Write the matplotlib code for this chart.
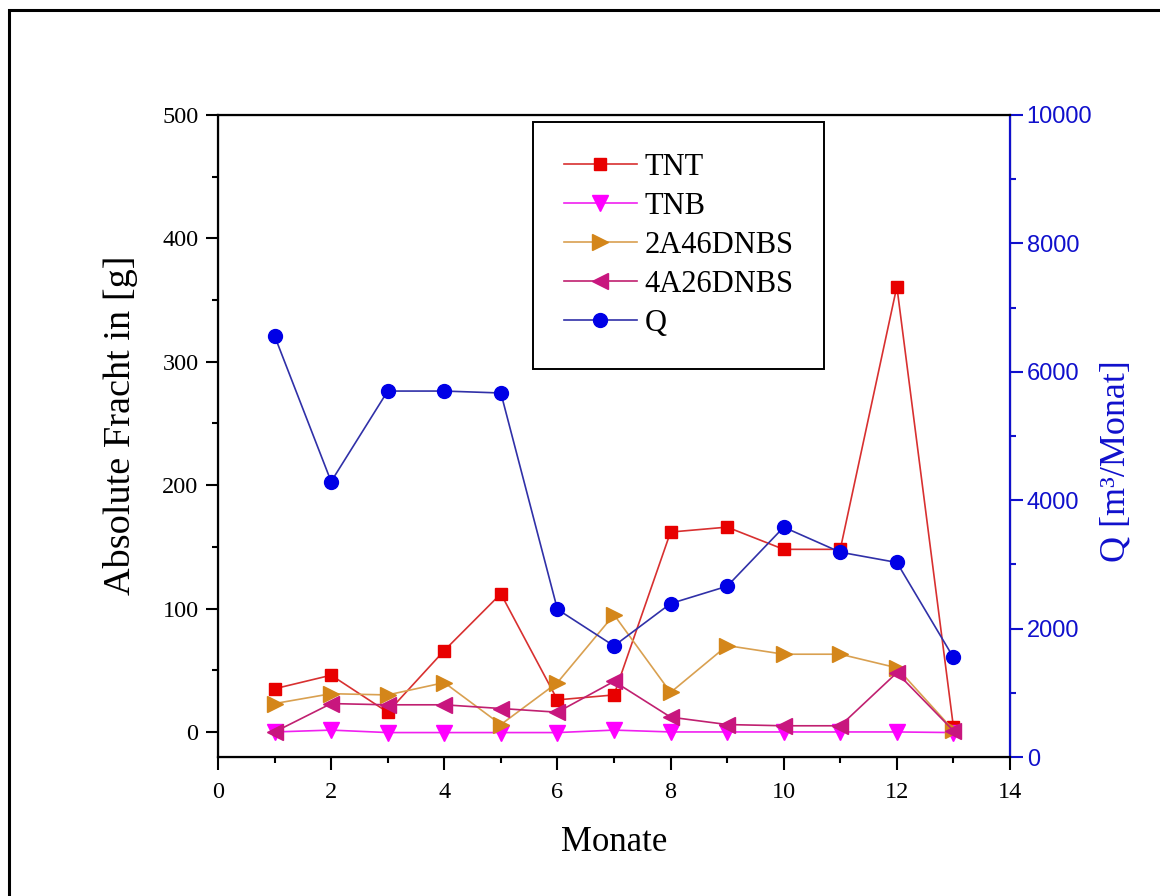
import matplotlib
matplotlib.use("Agg")
import matplotlib.pyplot as plt
from matplotlib.patches import Rectangle
from matplotlib.ticker import MultipleLocator

# data
monate = [1, 2, 3, 4, 5, 6, 7, 8, 9, 10, 11, 12, 13]
tnt = [35, 46, 16, 66, 112, 26, 30, 162, 166, 148, 148, 361, 4]
tnb = [0, 1.5, -0.5, -0.5, -0.5, -0.5, 1.5, 0, 0, 0, 0, 0, -0.5]
a2_46dnbs = [23, 31, 30, 40, 6, 40, 95, 32, 70, 63, 63, 52, 1.5]
a4_26dnbs = [0, 23, 22, 22, 19, 16, 41, 12, 6, 5, 5, 48, 1]
q = [6560, 4290, 5700, 5700, 5670, 2300, 1730, 2390, 2660, 3580, 3190, 3030, 1550]

W, H = 1160, 896
serif = "Liberation Serif"
sans = "Liberation Sans"
blue = "#1010CC"

fig = plt.figure(figsize=(W / 100, H / 100), dpi=100)
ax1 = fig.add_axes([218 / W, 1 - 757 / H, (1010 - 218) / W, (757 - 115) / H])
ax2 = ax1.twinx()

# left axis series
l1, = ax1.plot(monate, tnt, color="#D83030", lw=1.2, marker="s", ms=9,
               mfc="#E80000", mec="#E80000", label="TNT")
l2, = ax1.plot(monate, tnb, color="#F020F0", lw=1.2, marker="v", ms=11.5,
               mfc="#FF00FF", mec="#FF00FF", label="TNB")
l3, = ax1.plot(monate, a2_46dnbs, color="#D9A050", lw=1.2, marker=">", ms=11.5,
               mfc="#D4861A", mec="#D4861A", label="2A46DNBS")
l4, = ax1.plot(monate, a4_26dnbs, color="#C02070", lw=1.2, marker="<", ms=11.5,
               mfc="#C8167E", mec="#C8167E", label="4A26DNBS")
# right axis series
l5, = ax2.plot(monate, q, color="#3030A8", lw=1.2, marker="o", ms=10,
               mfc="#0000E6", mec="#0000E6", label="Q")

ax1.set_xlim(0, 14)
ax1.set_ylim(-20.3, 500)
ax2.set_ylim(0, 10000)

ax1.xaxis.set_major_locator(MultipleLocator(2))
ax1.xaxis.set_minor_locator(MultipleLocator(1))
ax1.yaxis.set_major_locator(MultipleLocator(100))
ax1.yaxis.set_minor_locator(MultipleLocator(50))
ax2.yaxis.set_major_locator(MultipleLocator(2000))
ax2.yaxis.set_minor_locator(MultipleLocator(1000))

for sp in ["left", "bottom", "top"]:
    ax2.spines[sp].set_linewidth(1.6)
    ax2.spines[sp].set_color("black")
ax2.spines["right"].set_linewidth(1.6)
ax2.spines["right"].set_color(blue)

ax1.tick_params(axis="both", which="major", direction="out", length=9, width=1.5,
                labelsize=17.5, pad=5)
ax1.tick_params(axis="both", which="minor", direction="out", length=4.5, width=1.5)
ax1.tick_params(axis="x", which="major", pad=9)
ax1.tick_params(top=False, which="both")
ax2.tick_params(axis="y", which="major", direction="out", length=9, width=1.5,
                labelsize=17, pad=3, colors=blue, labelcolor=blue)
ax2.tick_params(axis="y", which="minor", direction="out", length=4.5, width=1.5,
                colors=blue)

for lab in ax1.get_xticklabels() + ax1.get_yticklabels():
    lab.set_fontfamily(serif)
for lab in ax2.get_yticklabels():
    lab.set_fontfamily(sans)

# axis titles
fig.text(120 / W, 1 - 425 / H, "Absolute Fracht in [g]", rotation=90,
         ha="center", va="center", fontsize=27.5, family=serif)
fig.text(1116 / W, 1 - 461 / H, "Q [m³/Monat]", rotation=90,
         ha="center", va="center", fontsize=26, family=serif, color=blue)
fig.text(614 / W, 1 - 842 / H, "Monate", ha="center", va="center",
         fontsize=25, family=serif)

leg = ax2.legend(handles=[l1, l2, l3, l4, l5], loc="upper left",
                 bbox_to_anchor=(0.3977, 0.989), borderaxespad=0,
                 prop={"family": serif, "size": 22}, fancybox=False,
                 edgecolor="black", framealpha=1, borderpad=1.0,
                 handlelength=2.4, handletextpad=0.25, labelspacing=0.33)
leg.get_frame().set_linewidth(1.4)

# outer frame of the picture
fig.patches.append(Rectangle((9 / W, -0.1), 1.2, 1.1 - 10 / H, transform=fig.transFigure,
                             fill=False, lw=2.2, edgecolor="black"))

fig.savefig("out.png", dpi=100)
